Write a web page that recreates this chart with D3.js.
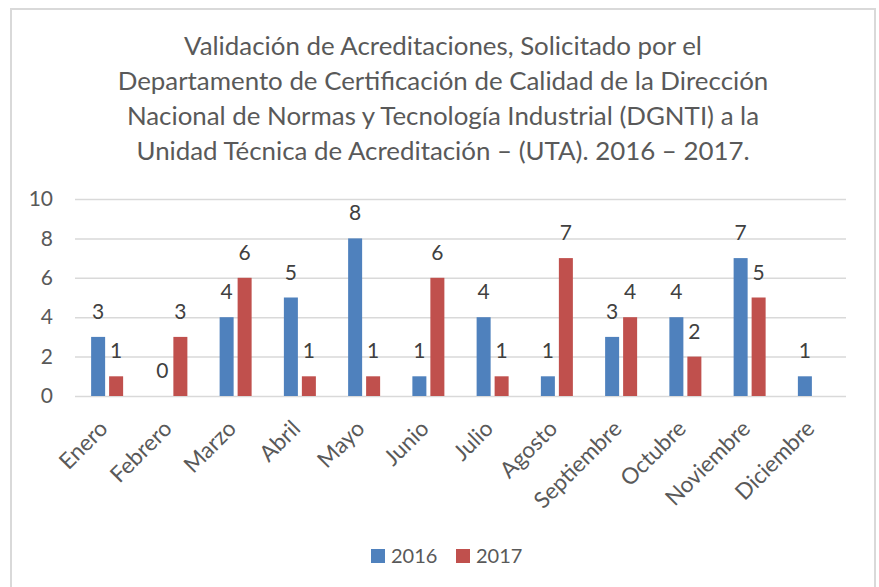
<!DOCTYPE html>
<html><head><meta charset="utf-8">
<script src="https://cdn.jsdelivr.net/npm/d3@7"></script>
<style>body{margin:0;background:#fff}svg{display:block}text{font-family:Lato,'Open Sans',sans-serif}</style>
</head><body>
<svg id="c" width="879" height="587"></svg>
<script>
const titleLines = [
  "Validación de Acreditaciones, Solicitado por el",
  "Departamento de Certificación de Calidad de la Dirección",
  "Nacional de Normas y Tecnología Industrial (DGNTI) a la",
  "Unidad Técnica de Acreditación – (UTA). 2016 – 2017."
];
const months = ["Enero","Febrero","Marzo","Abril","Mayo","Junio","Julio","Agosto","Septiembre","Octubre","Noviembre","Diciembre"];
const seriesNames = ["2016","2017"];
const values2016 = [3,0,4,5,8,1,4,1,3,4,7,1];
const values2017 = [1,3,6,1,1,6,1,7,4,2,5,null];
const yTicks = [0,2,4,6,8,10];
const colors = ["#4F81BD","#C0504D"];

const svg = d3.select("#c");
svg.append("rect").attr("x",11).attr("y",9).attr("width",864).attr("height",620)
  .attr("fill","#fff").attr("stroke","#d9d9d9").attr("stroke-width",2);

// Title
const title = svg.append("g");
const tl = title.selectAll("text").data(titleLines).join("text")
  .attr("x",443).attr("y",(d,i)=>55+i*35).attr("text-anchor","middle")
  .attr("fill","#595959").style("font-size","100px").text(d=>d);
const w2 = tl.nodes()[1].getComputedTextLength();
tl.style("font-size",(100*651/w2)+"px");

const x0 = d3.scaleBand().domain(months).range([75,846]).padding(0);
const x1 = d3.scaleBand().domain(seriesNames).range([0,x0.bandwidth()]).paddingInner(0.222).paddingOuter(0.896);
const y = d3.scaleLinear().domain([0,10]).range([396,199]);

// y axis + gridlines
const ya = svg.append("g").attr("transform","translate(75,0)")
  .call(d3.axisLeft(y).tickValues(yTicks).tickSize(-(846-75)).tickPadding(22));
ya.select(".domain").remove();
ya.selectAll("line").attr("stroke","#d9d9d9").attr("stroke-width",1.5);
ya.selectAll("text").attr("fill","#595959").style("font-size","21px").style("font-family","Lato,sans-serif");

// x axis
const xa = svg.append("g").attr("transform","translate(0,396)")
  .call(d3.axisBottom(x0).tickSize(0).tickPadding(0));
xa.select(".domain").remove();
xa.selectAll("text").attr("fill","#595959").style("font-size","22.5px").style("font-family","Lato,sans-serif")
  .attr("text-anchor","end").attr("dy",null).attr("y",0)
  .attr("transform","translate(2,34) rotate(-45)");

// bars
const data = months.map((m,i)=>({m, vals:[values2016[i],values2017[i]]}));
const groups = svg.append("g").selectAll("g").data(data).join("g")
  .attr("transform",d=>`translate(${x0(d.m)},0)`);
const cells = groups.selectAll("g").data(d=>d.vals.map((v,j)=>({s:seriesNames[j],v,j}))).join("g");
cells.filter(d=>d.v!==null && d.v>0).append("rect")
  .attr("x",d=>x1(d.s)).attr("width",x1.bandwidth())
  .attr("y",d=>y(d.v)).attr("height",d=>y(0)-y(d.v))
  .attr("fill",d=>colors[d.j]);
cells.filter(d=>d.v!==null).append("text")
  .attr("x",d=>x1(d.s)+x1.bandwidth()/2).attr("y",d=>y(d.v)-18)
  .attr("text-anchor","middle").attr("fill","#404040").style("font-size","21px")
  .text(d=>d.v);

// legend
const leg = svg.append("g");
const lx = [371,456];
seriesNames.forEach((s,i)=>{
  leg.append("rect").attr("x",lx[i]).attr("y",549).attr("width",14).attr("height",14).attr("fill",colors[i]);
  leg.append("text").attr("x",lx[i]+20).attr("y",563).attr("fill","#595959").style("font-size","20px").text(s);
});
</script>
</body></html>
